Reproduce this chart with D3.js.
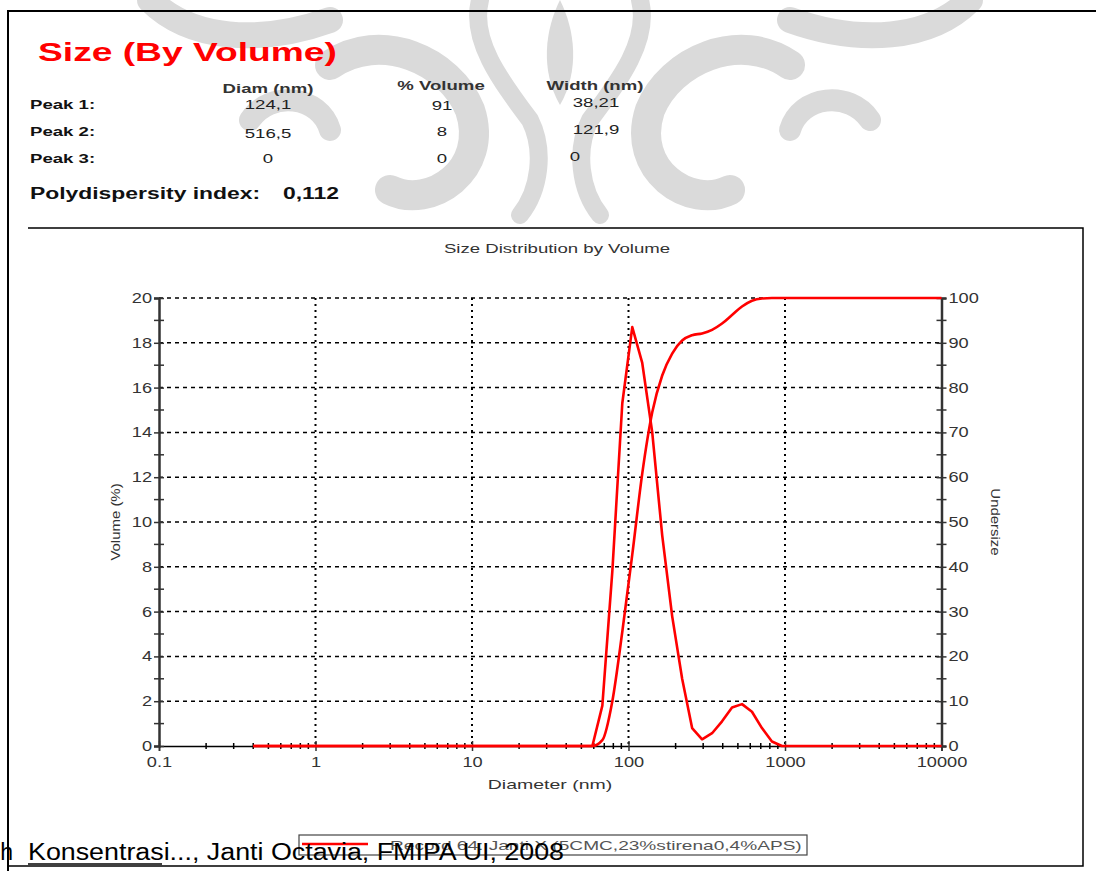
<!DOCTYPE html>
<html><head><meta charset="utf-8">
<script src="https://cdn.jsdelivr.net/npm/d3@7"></script>
<style>
html,body{margin:0;padding:0;background:#fff;}
svg{display:block;font-family:"Liberation Sans",Arial,sans-serif;}
</style></head>
<body>
<svg id="c" width="1096" height="871"></svg>
<script>
// ---- data ----
const diameters = [0.4, 58.77, 68.06, 78.82, 91.28, 105.7, 122.4, 141.8, 164.2, 190.1, 220.2, 255.0, 295.3, 342.0, 396.1, 458.7, 531.2, 615.1, 712.4, 825.0, 955.4, 1106, 10000];
const volumePct = [0, 0, 1.8, 7.8, 15.3, 18.7, 17.1, 14.0, 9.4, 5.8, 3.0, 0.8, 0.3, 0.57, 1.1, 1.72, 1.87, 1.53, 0.8, 0.2, 0, 0, 0];
const undersize = [0, 0, 1.3, 10.0, 25.5, 42.7, 60.8, 74.5, 82.7, 87.6, 90.5, 91.7, 92.1, 92.9, 94.3, 96.2, 98.1, 99.4, 99.9, 100, 100, 100, 100];
const xTickValues = [0.1, 1, 10, 100, 1000, 10000];
const xTickLabels = ["0.1", "1", "10", "100", "1000", "10000"];
const yLeftTicks = [0, 2, 4, 6, 8, 10, 12, 14, 16, 18, 20];
const yRightTicks = [0, 10, 20, 30, 40, 50, 60, 70, 80, 90, 100];
const peakNames = ["Peak 1:", "Peak 2:", "Peak 3:"];
const peakDiam = ["124,1", "516,5", "0"];
const peakVolume = ["91", "8", "0"];
const peakWidth = ["38,21", "121,9", "0"];
const pdiValue = "0,112";
const legendLabel = "Record 64: Janti X (5CMC,23%stirena0,4%APS)";

const svg = d3.select("#c");
const red = "#ff0000";
const SX = 1.43; // horizontal stretch of the report's lettering

function st(parent, x, y, txt, o = {}) {
  const t = parent.append("text")
    .attr("transform", `translate(${x},${y})${o.rot ? ` rotate(${o.rot})` : ""} scale(${o.sx || SX},1)`)
    .attr("font-size", o.size || 13)
    .attr("fill", o.fill || "#222")
    .attr("text-anchor", o.anchor || "start")
    .text(txt);
  if (o.weight) t.attr("font-weight", o.weight);
  return t;
}

// ---- watermark (light grey ornament at top) ----
const wmc = "#dadada";
const wm = svg.append("g").attr("fill", "none").attr("stroke", wmc).attr("stroke-linecap", "round");
wm.append("path").attr("d", "M560,0 C545,30 540,70 560,105 C580,70 575,30 560,0").attr("fill", wmc).attr("stroke", "none");
wm.append("path").attr("d", "M150,0 C190,40 260,45 330,20").attr("stroke-width", 26);
wm.append("path").attr("d", "M970,0 C930,40 860,45 790,20").attr("stroke-width", 26);
wm.append("path").attr("d", "M330,65 C380,30 450,60 470,110 C490,170 430,210 390,190").attr("stroke-width", 30);
wm.append("path").attr("d", "M790,65 C740,30 670,60 650,110 C630,170 690,210 730,190").attr("stroke-width", 30);
wm.append("path").attr("d", "M480,0 C470,40 500,80 530,120 C545,150 540,190 520,215").attr("stroke-width", 18);
wm.append("path").attr("d", "M640,0 C650,40 620,80 590,120 C575,150 580,190 600,215").attr("stroke-width", 18);
wm.append("path").attr("d", "M250,120 C270,90 320,95 330,130").attr("stroke-width", 22);
wm.append("path").attr("d", "M870,120 C850,90 800,95 790,130").attr("stroke-width", 22);

// ---- page frame ----
svg.append("line").attr("x1", 8).attr("x2", 1096).attr("y1", 11).attr("y2", 11).attr("stroke", "#000").attr("stroke-width", 2);
svg.append("line").attr("x1", 8).attr("x2", 8).attr("y1", 10).attr("y2", 871).attr("stroke", "#000").attr("stroke-width", 2);

// ---- header ----
st(svg, 38, 61, "Size (By Volume)", { size: 26, weight: "bold", fill: red });
st(svg, 268, 93, "Diam (nm)", { weight: "bold", anchor: "middle", fill: "#333" });
st(svg, 441, 90, "% Volume", { weight: "bold", anchor: "middle", fill: "#333" });
st(svg, 595, 90, "Width (nm)", { weight: "bold", anchor: "middle", fill: "#333" });
const rowY = [109, 136, 163];
peakNames.forEach((n, i) => {
  st(svg, 30, rowY[i], n, { weight: "bold", fill: "#111" });
  st(svg, 268, rowY[i] + (i === 1 ? 2 : 0), peakDiam[i], { anchor: "middle" });
  st(svg, 442, rowY[i] + (i === 0 ? 1 : 0), peakVolume[i], { anchor: "middle" });
  st(svg, i === 2 ? 575 : 596, rowY[i] - 2, peakWidth[i], { anchor: "middle" });
});
st(svg, 30, 199, "Polydispersity index:", { size: 16, weight: "bold", fill: "#111" });
st(svg, 283, 199, pdiValue, { size: 16, weight: "bold", fill: "#111" });

// ---- chart frame ----
svg.append("rect").attr("x", 28).attr("y", 228).attr("width", 1055).attr("height", 638).attr("fill", "#fff").attr("stroke", "none");
svg.append("path").attr("d", "M28,228 H1083 V866 H8").attr("fill", "none").attr("stroke", "#000").attr("stroke-width", 1.5);
st(svg, 557, 253, "Size Distribution by Volume", { anchor: "middle", fill: "#333" });

// ---- scales ----
const x = d3.scaleLog().domain([0.1, 10000]).range([159, 941.5]);
const yL = d3.scaleLinear().domain([0, 20]).range([746, 298]);
const yR = d3.scaleLinear().domain([0, 100]).range([746, 298]);

// gridlines
const grid = svg.append("g");
grid.selectAll("line.h").data(yLeftTicks.filter(d => d > 0)).join("line")
  .attr("x1", x(0.1)).attr("x2", x(10000)).attr("y1", d => yL(d)).attr("y2", d => yL(d))
  .attr("stroke", "#000").attr("stroke-width", 1.5).attr("stroke-dasharray", "4,4");
grid.selectAll("line.v").data(xTickValues.slice(1, -1)).join("line")
  .attr("x1", d => x(d)).attr("x2", d => x(d)).attr("y1", yL(20)).attr("y2", yL(0))
  .attr("stroke", "#000").attr("stroke-width", 2).attr("stroke-dasharray", "2,4");

// axes
const axisColor = "#333";
const TS = 1.3;
const gx = svg.append("g").attr("transform", `translate(0,${yL(0)})`)
  .call(d3.axisBottom(x).tickValues(xTickValues).tickFormat((d, i) => xTickLabels[i]).tickSize(5).tickPadding(6));
const minorX = [];
[0.1, 1, 10, 100, 1000].forEach(b => { for (let k = 2; k <= 9; k++) minorX.push(b * k); });
gx.selectAll(".minor").data(minorX).join("line").attr("class", "minor")
  .attr("x1", d => x(d)).attr("x2", d => x(d)).attr("y1", -3).attr("y2", 3).attr("stroke", "#000").attr("stroke-width", 1.5);
gx.selectAll(".tick line").attr("y1", -5).attr("y2", 5).attr("stroke-width", 1.5);
gx.selectAll(".tick text").attr("transform", `scale(${TS},1)`);

const gl = svg.append("g").attr("transform", `translate(${x(0.1)},0)`)
  .call(d3.axisLeft(yL).tickValues(yLeftTicks).tickSize(5).tickPadding(3));
gl.selectAll(".minor").data([1, 3, 5, 7, 9, 11, 13, 15, 17, 19]).join("line").attr("class", "minor")
  .attr("x1", -5).attr("x2", 5).attr("y1", d => yL(d)).attr("y2", d => yL(d)).attr("stroke", axisColor).attr("stroke-width", 1.5);
gl.selectAll(".tick line").attr("x2", 5).attr("x1", -5).attr("stroke-width", 1.5);
gl.selectAll(".tick text").attr("x", -7 / TS).attr("transform", `scale(${TS},1)`);

const gr = svg.append("g").attr("transform", `translate(${x(10000)},0)`)
  .call(d3.axisRight(yR).tickValues(yRightTicks).tickSize(5).tickPadding(3));
gr.selectAll(".minor").data([5, 15, 25, 35, 45, 55, 65, 75, 85, 95]).join("line").attr("class", "minor")
  .attr("x1", -5).attr("x2", 5).attr("y1", d => yR(d)).attr("y2", d => yR(d)).attr("stroke", axisColor).attr("stroke-width", 1.5);
gr.selectAll(".tick line").attr("x1", -5).attr("x2", 5).attr("stroke-width", 1.5);
gr.selectAll(".tick text").attr("x", 7 / TS).attr("transform", `scale(${TS},1)`);

[gx, gl, gr].forEach(g => {
  g.selectAll(".domain").attr("stroke", axisColor);
  g.selectAll("text").attr("font-size", 14).attr("fill", "#333").attr("font-family", "Liberation Sans, Arial, sans-serif");
  g.selectAll(".tick line").attr("stroke", axisColor);
});
gx.select(".domain").attr("stroke-width", 1.5).attr("stroke", "#000");
gl.select(".domain").attr("stroke-width", 2.5);
gr.select(".domain").attr("stroke-width", 2.5);

// axis titles
const midY = (yL(0) + yL(20)) / 2;
st(svg, 120, midY, "Volume (%)", { rot: -90, anchor: "middle", fill: "#333", sx: 1.15 });
st(svg, 991, midY, "Undersize", { rot: 90, anchor: "middle", fill: "#333", sx: 1.15 });
st(svg, 550, 789, "Diameter (nm)", { anchor: "middle", fill: "#333", sx: 1.5 });

// ---- curves ----
const pts = diameters.map((d, i) => ({ d, v: volumePct[i], u: undersize[i] }));
svg.append("path").datum(pts).attr("fill", "none").attr("stroke", red).attr("stroke-width", 2.6).attr("stroke-linejoin", "round")
  .attr("d", d3.line().x(p => x(p.d)).y(p => yL(p.v)));
svg.append("path").datum(pts).attr("fill", "none").attr("stroke", red).attr("stroke-width", 2.6).attr("stroke-linejoin", "round")
  .attr("d", d3.line().curve(d3.curveMonotoneX).x(p => x(p.d)).y(p => yR(p.u)));

// ---- legend ----
svg.append("rect").attr("x", 299).attr("y", 835).attr("width", 508).attr("height", 20).attr("fill", "#fff").attr("stroke", "#444").attr("stroke-width", 1.2);
svg.append("line").attr("x1", 302).attr("x2", 368).attr("y1", 844).attr("y2", 844).attr("stroke", red).attr("stroke-width", 2.5);
st(svg, 390, 850, legendLabel, { fill: "#555", sx: 1.47 });

// ---- footer overlay text ----
const ft = svg.append("g").attr("font-family", "'Liberation Sans Narrow', 'Liberation Sans', Arial, sans-serif").attr("font-size", 23).attr("fill", "#000");
ft.append("text").attr("x", 13).attr("y", 860).attr("text-anchor", "end").text("Pengaruh");
ft.append("text").attr("x", 28).attr("y", 860).attr("textLength", 536).attr("lengthAdjust", "spacingAndGlyphs").text("Konsentrasi..., Janti Octavia, FMIPA UI, 2008");
svg.append("line").attr("x1", 28).attr("x2", 162).attr("y1", 864).attr("y2", 864).attr("stroke", "#000").attr("stroke-width", 1.5);
</script>
</body></html>
